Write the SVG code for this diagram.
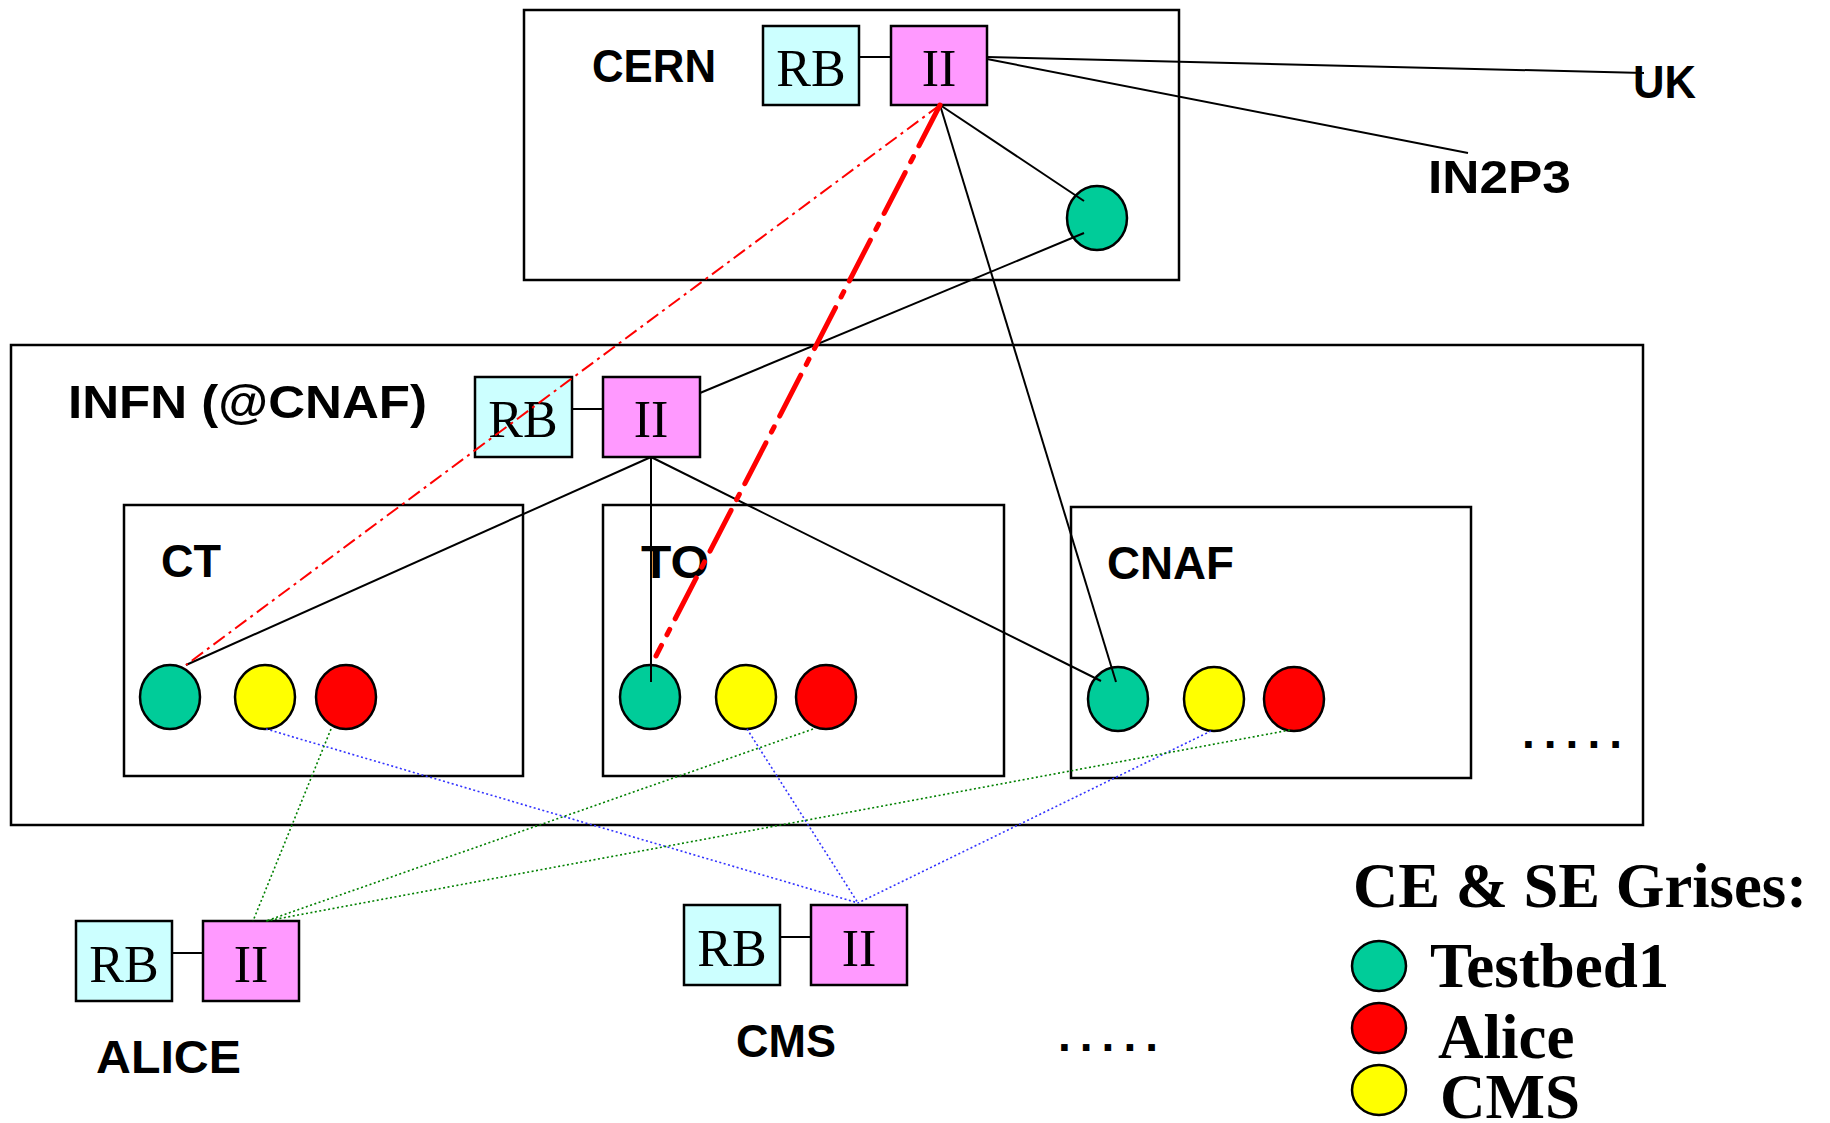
<svg xmlns="http://www.w3.org/2000/svg" width="1830" height="1123" viewBox="0 0 1830 1123">
<style>
  .box { fill: none; stroke: #000; stroke-width: 2.5; }
  .rb { fill: #ccffff; stroke: #000; stroke-width: 2.5; }
  .ii { fill: #ff99ff; stroke: #000; stroke-width: 2.5; }
  .g { fill: #00cc99; stroke: #000; stroke-width: 2.5; }
  .y { fill: #ffff00; stroke: #000; stroke-width: 2.5; }
  .r { fill: #ff0000; stroke: #000; stroke-width: 2.5; }
  .st { font-family: "Liberation Serif", "Times New Roman", serif; font-size: 52px; text-anchor: middle; fill: #000; }
  .lbl { font-family: "Liberation Sans", Arial, sans-serif; font-weight: bold; font-size: 46px; fill: #000; }
  .leg { font-family: "Liberation Serif", "Times New Roman", serif; font-weight: bold; font-size: 63px; fill: #000; }
  .ln { stroke: #000; stroke-width: 2; fill: none; }
  .blue { stroke: #3333ff; stroke-width: 1.6; stroke-dasharray: 2 2.5; fill: none; }
  .grn { stroke: #008000; stroke-width: 1.6; stroke-dasharray: 2 2.5; fill: none; }
  .rthin { stroke: #ff0000; stroke-width: 2; stroke-dasharray: 14 5 3 5; fill: none; }
  .rthick { stroke: #ff0000; stroke-width: 5; stroke-dasharray: 46 12 6 12; fill: none; stroke-linecap: round; }
</style>

<g id="cern">
  <rect class="box" x="524" y="10" width="655" height="270"/>
  <text class="lbl" x="592" y="82" textLength="124" lengthAdjust="spacingAndGlyphs">CERN</text>
</g>
<g id="cern-rb">
  <rect class="rb" x="763" y="26" width="96" height="79"/>
  <text class="st" x="811" y="86">RB</text>
</g>
<g id="cern-ii">
  <rect class="ii" x="891" y="26" width="96" height="79"/>
  <text class="st" x="939" y="86">II</text>
</g>
<g id="cern-ce">
  <ellipse class="g" cx="1097" cy="218" rx="30" ry="32"/>
</g>
<g id="uk">
  <text class="lbl" x="1633" y="98" textLength="63" lengthAdjust="spacingAndGlyphs">UK</text>
</g>
<g id="in2p3">
  <text class="lbl" x="1428" y="193" textLength="143" lengthAdjust="spacingAndGlyphs">IN2P3</text>
</g>

<g id="infn">
  <rect class="box" x="11" y="345" width="1632" height="480"/>
  <text class="lbl" x="68" y="418" textLength="359" lengthAdjust="spacingAndGlyphs">INFN (@CNAF)</text>
  <text class="lbl" x="1522" y="748" textLength="100" lengthAdjust="spacing">.....</text>
</g>
<g id="infn-rb">
  <rect class="rb" x="475" y="377" width="97" height="80"/>
  <text class="st" x="523" y="437">RB</text>
</g>
<g id="infn-ii">
  <rect class="ii" x="603" y="377" width="97" height="80"/>
  <text class="st" x="651" y="437">II</text>
</g>

<g id="ct">
  <rect class="box" x="124" y="505" width="399" height="271"/>
  <text class="lbl" x="161" y="577" textLength="60" lengthAdjust="spacingAndGlyphs">CT</text>
  <ellipse class="g" cx="170" cy="697" rx="30" ry="32"/>
  <ellipse class="y" cx="265" cy="697" rx="30" ry="32"/>
  <ellipse class="r" cx="346" cy="697" rx="30" ry="32"/>
</g>
<g id="to">
  <rect class="box" x="603" y="505" width="401" height="271"/>
  <text class="lbl" x="641" y="578" textLength="68" lengthAdjust="spacingAndGlyphs">TO</text>
  <ellipse class="g" cx="650" cy="697" rx="30" ry="32"/>
  <ellipse class="y" cx="746" cy="697" rx="30" ry="32"/>
  <ellipse class="r" cx="826" cy="697" rx="30" ry="32"/>
</g>
<g id="cnaf">
  <rect class="box" x="1071" y="507" width="400" height="271"/>
  <text class="lbl" x="1107" y="579" textLength="127" lengthAdjust="spacingAndGlyphs">CNAF</text>
  <ellipse class="g" cx="1118" cy="699" rx="30" ry="32"/>
  <ellipse class="y" cx="1214" cy="699" rx="30" ry="32"/>
  <ellipse class="r" cx="1294" cy="699" rx="30" ry="32"/>
</g>

<g id="alice">
  <rect class="rb" x="76" y="921" width="96" height="80"/>
  <text class="st" x="124" y="982">RB</text>
  <rect class="ii" x="203" y="921" width="96" height="80"/>
  <text class="st" x="251" y="982">II</text>
  <text class="lbl" x="96" y="1073" textLength="145" lengthAdjust="spacingAndGlyphs">ALICE</text>
</g>
<g id="cms">
  <rect class="rb" x="684" y="905" width="96" height="80"/>
  <text class="st" x="732" y="966">RB</text>
  <rect class="ii" x="811" y="905" width="96" height="80"/>
  <text class="st" x="859" y="966">II</text>
  <text class="lbl" x="736" y="1057" textLength="100" lengthAdjust="spacingAndGlyphs">CMS</text>
</g>
<g id="more">
  <text class="lbl" x="1058" y="1051" textLength="100" lengthAdjust="spacing">.....</text>
</g>

<g id="legend">
  <text class="leg" x="1353" y="907" textLength="454" lengthAdjust="spacingAndGlyphs">CE &amp; SE Grises:</text>
  <ellipse class="g" cx="1379" cy="966" rx="27" ry="25"/>
  <text class="leg" x="1430" y="987">Testbed1</text>
  <ellipse class="r" cx="1379" cy="1028" rx="27" ry="25"/>
  <text class="leg" x="1438" y="1058">Alice</text>
  <ellipse class="y" cx="1379" cy="1090" rx="27" ry="25"/>
  <text class="leg" x="1440" y="1118">CMS</text>
</g>

<g id="connectors">
  <line class="ln" x1="859" y1="57" x2="891" y2="57"/>
  <line class="ln" x1="572" y1="409" x2="603" y2="409"/>
  <line class="ln" x1="172" y1="953" x2="203" y2="953"/>
  <line class="ln" x1="780" y1="937" x2="811" y2="937"/>

  <line class="ln" x1="987" y1="57" x2="1644" y2="73"/>
  <line class="ln" x1="987" y1="59" x2="1468" y2="153"/>
  <line class="ln" x1="940" y1="105" x2="1084" y2="201"/>
  <line class="ln" x1="1084" y1="233" x2="700" y2="393"/>
  <line class="ln" x1="940" y1="105" x2="1116" y2="682"/>

  <line class="ln" x1="651" y1="457" x2="186" y2="665"/>
  <line class="ln" x1="651" y1="457" x2="651" y2="682"/>
  <line class="ln" x1="651" y1="457" x2="1101" y2="681"/>

  <line class="rthin" x1="940" y1="105" x2="186" y2="665"/>
  <line class="rthick" x1="940" y1="105" x2="656" y2="656"/>

  <line class="blue" x1="266" y1="729" x2="858" y2="903"/>
  <line class="blue" x1="747" y1="729" x2="858" y2="903"/>
  <line class="blue" x1="1211" y1="731" x2="858" y2="903"/>

  <line class="grn" x1="331" y1="729" x2="253" y2="921"/>
  <line class="grn" x1="813" y1="729" x2="266" y2="921"/>
  <line class="grn" x1="1290" y1="730" x2="266" y2="921"/>
</g>
</svg>
